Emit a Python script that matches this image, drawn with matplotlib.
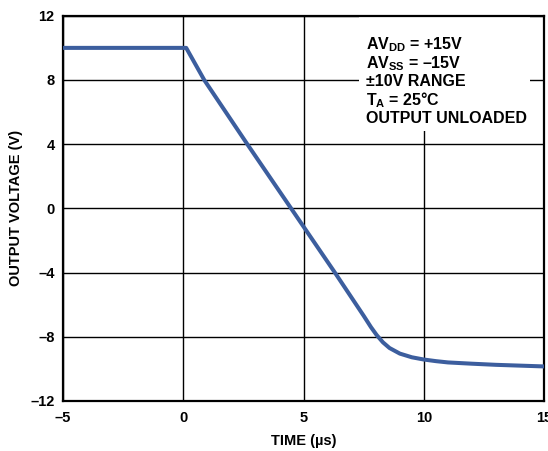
import matplotlib
matplotlib.use("Agg")
import matplotlib.pyplot as plt
from matplotlib.patches import Rectangle

plt.rcParams['font.family'] = ['Liberation Sans', 'DejaVu Sans']
plt.rcParams['font.weight'] = 'bold'
plt.rcParams['mathtext.fontset'] = 'custom'
plt.rcParams['mathtext.rm'] = 'Liberation Sans:bold'
plt.rcParams['mathtext.bf'] = 'Liberation Sans:bold'
plt.rcParams['mathtext.it'] = 'Liberation Sans:bold'

# Output voltage step response (µs, V)
time_us = [-5.0, -2.0, 0.0, 0.12, 0.87, 2.66, 4.48, 6.3, 7.5, 7.8, 8.04,
           8.3, 8.57, 9.0, 9.5, 10.0, 10.5, 11.0, 12.0, 13.0, 14.0, 15.0]
voltage_v = [10.0, 10.0, 10.0, 10.0, 8.0, 4.0, 0.0, -4.0, -6.7, -7.4, -7.9,
             -8.35, -8.7, -9.05, -9.28, -9.42, -9.52, -9.6, -9.68, -9.75,
             -9.8, -9.85]

x_ticks = [-5, 0, 5, 10, 15]
y_ticks = [-12, -8, -4, 0, 4, 8, 12]
y_tick_labels = ['–12', '–8', '–4', '0', '4', '8', '12']
x_tick_labels = ['–5', '0', '5', '10', '15']

conditions = [
    r'$\mathrm{AV_{DD}}$ = +15V',
    r'$\mathrm{AV_{SS}}$ = –15V',
    '±10V RANGE',
    r'$\mathrm{T_A}$ = 25°C',
    'OUTPUT UNLOADED',
]

fig = plt.figure(figsize=(5.48, 4.51), dpi=100)
ax = fig.add_axes([0.115, 0.111, 0.878, 0.854])

ax.plot(time_us, voltage_v, color='#3C5E9E', linewidth=2.9,
        solid_joinstyle='round', solid_capstyle='butt', zorder=3)

ax.set_xlim(-5, 15)
ax.set_ylim(-12, 12)
ax.set_xticks(x_ticks)
ax.set_xticklabels(x_tick_labels)
ax.set_yticks(y_ticks)
ax.set_yticklabels(y_tick_labels)
ax.tick_params(axis='both', length=0, labelsize=10.5)
ax.tick_params(axis='x', pad=7)
ax.tick_params(axis='y', pad=6)
ax.grid(True, color='black', linewidth=1.0)
ax.set_axisbelow(True)
for sp in ax.spines.values():
    sp.set_linewidth(1.6)
    sp.set_color('black')

ax.set_xlabel('TIME (µs)', fontsize=10.5, fontweight='bold', labelpad=7)
ax.set_ylabel('OUTPUT VOLTAGE (V)', fontsize=10.5, fontweight='bold', labelpad=5)

# white panel behind the condition list
ax.add_patch(Rectangle((7.3, 4.8), 7.1, 7.2, facecolor='white',
                       edgecolor='none', zorder=2))
y0 = 0.925
for i, line in enumerate(conditions):
    ax.text(0.63, y0 - i * 0.048, line, transform=ax.transAxes,
            fontsize=11.5, fontweight='bold', va='center', ha='left', zorder=4)

fig.savefig('out.png', dpi=100)
